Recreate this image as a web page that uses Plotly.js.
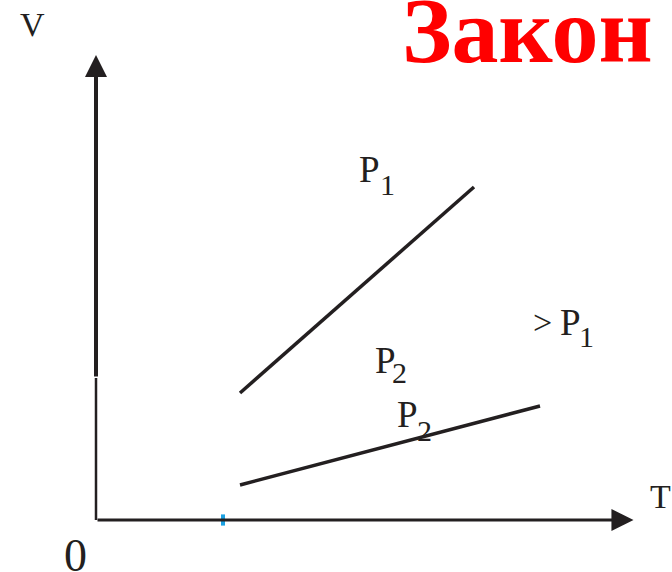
<!DOCTYPE html>
<html>
<head>
<meta charset="utf-8">
<script src="https://cdn.plot.ly/plotly-3.0.1.min.js"></script>
<style>
  html, body { margin: 0; padding: 0; background: #fff; }
  #chart { width: 672px; height: 572px; }
</style>
</head>
<body>
<div id="chart"></div>
<script>
// ===== Data =====
// isobar P1 (steeper) and isobar P2 > P1 (flatter), V against T
const isobarT1 = [2.88, 7.56];
const isobarV1 = [2.54, 6.66];
const isobarT2 = [2.88, 8.88];
const isobarV2 = [0.70, 2.28];
// small blue tick on the T axis
const tickT = [2.54];
const tickV = [0];

// axis extents
const axisTend = 10.75;
const axisVend = 9.30;
const axisVthick = 2.84;

const ink = '#231f20';
const serif = 'Liberation Serif, Times New Roman, serif';

function label(text, x, y, size, extra) {
    return Object.assign({
        x: x, y: y, xref: 'x', yref: 'y',
        text: text, showarrow: false,
        xanchor: 'center', yanchor: 'middle',
        font: { family: serif, size: size, color: ink }
    }, extra || {});
}

function arrow(x0, y0, x1, y1, width, size) {
    return {
        x: x1, y: y1, ax: x0, ay: y0,
        xref: 'x', yref: 'y', axref: 'x', ayref: 'y',
        text: '', showarrow: true,
        arrowhead: 2, arrowsize: size, arrowwidth: width, arrowcolor: ink
    };
}

// ===== Build chart =====
function createChart() {
    const traces = [
        {
            x: isobarT1, y: isobarV1, type: 'scatter', mode: 'lines',
            line: { color: ink, width: 3.5 }, hoverinfo: 'skip'
        },
        {
            x: isobarT2, y: isobarV2, type: 'scatter', mode: 'lines',
            line: { color: ink, width: 3.5 }, hoverinfo: 'skip'
        },
        {
            x: tickT, y: tickV, type: 'scatter', mode: 'markers',
            marker: { symbol: 'line-ns', size: 8, line: { color: '#1ba1e2', width: 4 } },
            hoverinfo: 'skip'
        }
    ];

    const layout = {
        width: 672,
        height: 572,
        margin: { t: 0, b: 0, l: 0, r: 0 },
        paper_bgcolor: 'white',
        plot_bgcolor: 'white',
        showlegend: false,
        xaxis: { range: [-1.92, 11.52], visible: false, fixedrange: true },
        yaxis: { range: [-1.04, 10.4], visible: false, fixedrange: true },
        shapes: [
            {
                type: 'line', xref: 'x', yref: 'y',
                x0: 0, y0: 0, x1: 0, y1: axisVthick,
                line: { color: ink, width: 2.5 }
            }
        ],
        annotations: [
            arrow(0, 0, axisTend, 0, 3, 1.47),
            arrow(0, axisVthick, 0, axisVend, 4, 1.1),
            label('V', -1.27, 9.91, 34),
            label('T', 11.29, 0.47, 34),
            label('0', -0.42, -0.71, 46),
            label('Закон', 8.62, 9.80, 94, {
                font: { family: serif, size: 94, color: '#ff0000', weight: 'bold' }
            }),
            label('P', 5.47, 7.01, 37),
            label('1', 5.82, 6.72, 30),
            label('P', 5.78, 3.20, 37),
            label('2', 6.07, 2.95, 30),
            label('P', 6.23, 2.11, 37),
            label('2', 6.56, 1.80, 30),
            label('>', 8.93, 3.95, 34),
            label('P', 9.48, 3.95, 37),
            label('1', 9.80, 3.68, 30)
        ]
    };

    Plotly.newPlot('chart', traces, layout, { displayModeBar: false, staticPlot: true });
}

document.addEventListener('DOMContentLoaded', createChart);
</script>
</body>
</html>
